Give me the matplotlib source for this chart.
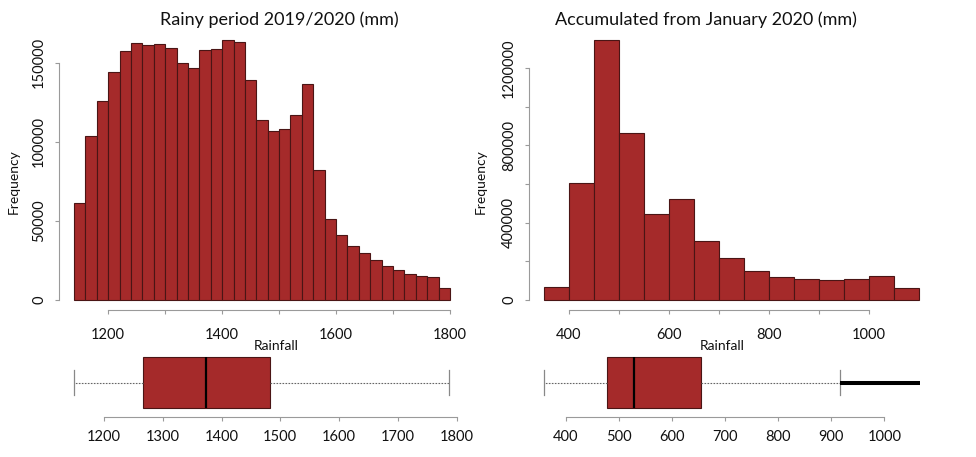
import numpy as np
import matplotlib
matplotlib.use("Agg")
import matplotlib.pyplot as plt

plt.rcParams['font.family'] = ['Lato', 'DejaVu Sans']

# ---- data ----
rainy_edges = np.arange(1140, 1801, 20)
rainy_counts = [61100, 103400, 126000, 144400, 157500, 162800, 161500, 162200,
                159200, 149700, 146900, 158100, 158800, 164300, 163400, 138900,
                113700, 106600, 108200, 116900, 136800, 82200, 51000, 41000,
                34200, 29400, 25200, 21400, 18600, 16300, 15000, 14200, 7200]

accum_edges = np.arange(350, 1101, 50)
accum_counts = [64000, 605300, 1345500, 864700, 444500, 524000, 306100, 217900,
                150500, 119300, 107200, 100300, 105500, 121100, 58800]

# boxplot summaries: whisker low, q1, median, q3, whisker high
rainy_box = dict(whislo=1149, q1=1267, med=1374, q3=1482, whishi=1787, fliers=[])
accum_box = dict(whislo=359, q1=477, med=528, q3=654, whishi=917, fliers=[])
accum_outlier_range = (917, 1067)

BROWN = '#a52a2a'
EDGE = '#4a1515'
AXC = '#9a9a9a'
W, H = 976, 457

fig = plt.figure(figsize=(W / 100, H / 100), dpi=100)


def rect(l, t, r, b):
    return [l / W, 1 - b / H, (r - l) / W, (b - t) / H]


def r_style(ax, xb, yb=None):
    for s in ax.spines.values():
        s.set_visible(False)
    ax.spines['bottom'].set_visible(True)
    ax.spines['bottom'].set_bounds(*xb)
    ax.spines['bottom'].set_color(AXC)
    if yb is not None:
        ax.spines['left'].set_visible(True)
        ax.spines['left'].set_bounds(*yb)
        ax.spines['left'].set_color(AXC)
    ax.tick_params(color=AXC, length=3.2, labelsize=10.5, labelcolor='#111111')


def hist_panel(box, edges, counts, xticks, xlabels, yticks, ylabels):
    ax = fig.add_axes(rect(*box))
    ax.bar(edges[:-1], counts, width=np.diff(edges), align='edge',
           color=BROWN, edgecolor=EDGE, linewidth=0.8)
    xr = edges[-1] - edges[0]
    ax.set_xlim(edges[0] - 0.04 * xr, edges[-1] + 0.04 * xr)
    ym = max(counts)
    ax.set_ylim(-0.04 * ym, 1.04 * ym)
    r_style(ax, (xticks[0], xticks[-1]), (yticks[0], yticks[-1]))
    ax.set_xticks(xticks)
    ax.set_xticklabels(xlabels)
    ax.set_yticks(yticks)
    ax.set_yticklabels(ylabels, rotation=90, va='center')
    ax.tick_params(axis='x', pad=10)
    ax.tick_params(axis='y', pad=6)
    return ax


def box_panel(box, stats, ticks, outliers=None):
    ax = fig.add_axes(rect(*box))
    ax.bxp([stats], positions=[1], widths=0.8, capwidths=0.4,
           orientation='horizontal', patch_artist=True, showfliers=False,
           boxprops=dict(facecolor=BROWN, edgecolor=EDGE, linewidth=0.8),
           whiskerprops=dict(color='#666666', linewidth=0.8, linestyle=(0, (1.5, 1.2))),
           capprops=dict(color='#888888', linewidth=0.9),
           medianprops=dict(color='black', linewidth=1.6))
    lo = stats['whislo']
    hi = stats['whishi']
    if outliers is not None:
        ax.hlines(1, outliers[0], outliers[1], color='black', linewidth=2.9)
        hi = max(hi, outliers[1])
    xr = hi - lo
    ax.set_xlim(lo - 0.04 * xr, hi + 0.04 * xr)
    ax.set_ylim(0.46, 1.54)
    r_style(ax, (ticks[0], ticks[-1]))
    ax.set_xticks(ticks)
    ax.set_xticklabels([str(t) for t in ticks])
    ax.set_yticks([])
    ax.tick_params(axis='x', pad=6)
    return ax


hist_panel((59, 30, 465, 310), rainy_edges, rainy_counts,
           list(range(1200, 1801, 100)), ['1200', '', '1400', '', '1600', '', '1800'],
           [0, 50000, 100000, 150000], ['0', '50000', '100000', '150000'])
hist_panel((529, 30, 934, 310), accum_edges, accum_counts,
           list(range(400, 1001, 100)), ['400', '', '600', '', '800', '', '1000'],
           list(range(0, 1200001, 200000)),
           ['0', '', '400000', '', '800000', '', '1200000'])

box_panel((59, 348, 464, 417), rainy_box, list(range(1200, 1801, 100)))
box_panel((529, 348, 935, 417), accum_box, list(range(400, 1001, 100)),
          outliers=accum_outlier_range)

# titles and axis labels
fig.text(279.5 / W, 1 - 20 / H, 'Rainy period 2019/2020 (mm)', ha='center',
         va='center', fontsize=13, color='#111111')
fig.text(706 / W, 1 - 20 / H, 'Accumulated from January 2020 (mm)', ha='center',
         va='center', fontsize=13, color='#111111')
for x in (14, 481):
    fig.text(x / W, 1 - 182 / H, 'Frequency', rotation=90, ha='center',
             va='center', fontsize=10, color='#111111')
for x in (275.7, 721.7):
    fig.text(x / W, 1 - 346.5 / H, 'Rainfall', ha='center', va='center',
             fontsize=10, color='#111111')

fig.savefig('out.png', dpi=100)
